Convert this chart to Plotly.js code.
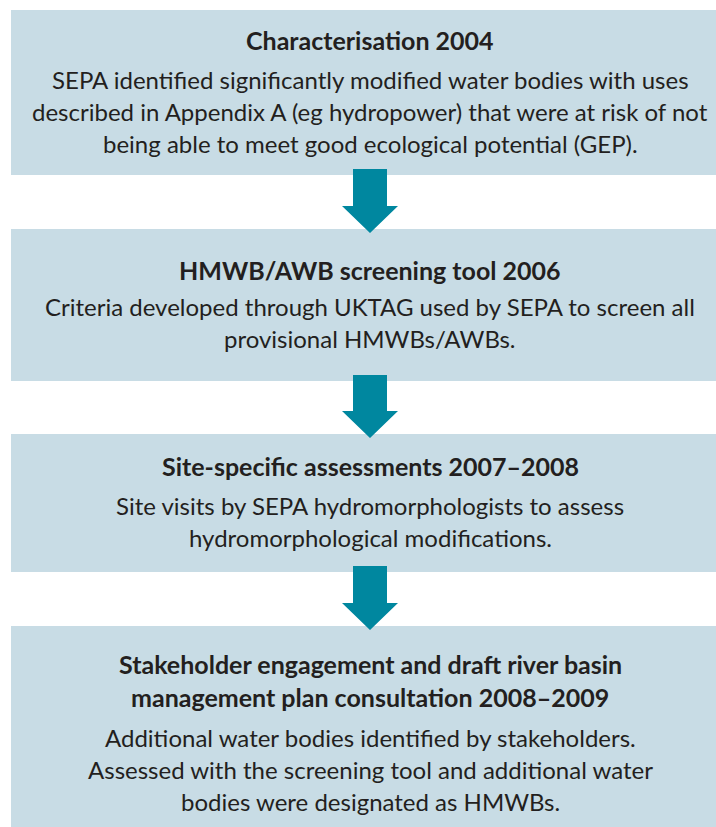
<!DOCTYPE html>
<html>
<head>
<meta charset="utf-8">
<script src="https://cdn.plot.ly/plotly-3.0.1.min.js"></script>
<style>html,body{margin:0;padding:0;background:#fff;}#chart{width:716px;height:827px;}</style>
</head>
<body>
<div id="chart"></div>
<script>
// Stage content
var stageTitles = [
  ["Characterisation 2004"],
  ["HMWB/AWB screening tool 2006"],
  ["Site-specific assessments 2007–2008"],
  ["Stakeholder engagement and draft river basin", "management plan consultation 2008–2009"]
];
var stageTexts = [
  ["SEPA identified significantly modified water bodies with uses",
   "described in Appendix A (eg hydropower) that were at risk of not",
   "being able to meet good ecological potential (GEP)."],
  ["Criteria developed through UKTAG used by SEPA to screen all",
   "provisional HMWBs/AWBs."],
  ["Site visits by SEPA hydromorphologists to assess",
   "hydromorphological modifications."],
  ["Additional water bodies identified by stakeholders.",
   "Assessed with the screening tool and additional water",
   "bodies were designated as HMWBs."]
];

// Layout geometry (pixels)
var boxTop = [10, 229, 434, 626];
var boxBottom = [175, 381, 572, 830];
var titleY = [[40], [270], [466], [664, 697]];
var textY = [[79, 111, 143], [306, 338], [505, 537], [737, 769, 801]];
var boxLeft = 11, boxRight = 730, cx = 370;
var boxColor = "#c8dce5", arrowColor = "#00879f", textColor = "#231f20";
var fontFam = "Lato, 'Open Sans', sans-serif";
var titleSize = 25, textSize = 24;

var shapes = [], annotations = [];
for (var i = 0; i < boxTop.length; i++) {
  shapes.push({type: "rect", xref: "x", yref: "y", x0: boxLeft, x1: boxRight,
    y0: boxTop[i], y1: boxBottom[i], fillcolor: boxColor, line: {width: 0}, layer: "below"});
  stageTitles[i].forEach(function (t, k) {
    annotations.push({x: cx, y: titleY[i][k], xref: "x", yref: "y", text: "<b>" + t + "</b>",
      showarrow: false, xanchor: "center", yanchor: "middle",
      font: {family: fontFam, size: titleSize, color: textColor}});
  });
  stageTexts[i].forEach(function (t, k) {
    annotations.push({x: cx, y: textY[i][k], xref: "x", yref: "y", text: t,
      showarrow: false, xanchor: "center", yanchor: "middle",
      font: {family: fontFam, size: textSize, color: textColor}});
  });
}
// Arrows between boxes
for (var j = 0; j < boxTop.length - 1; j++) {
  var s0 = boxBottom[j] - 6, tip = boxTop[j + 1] + 4, hb = tip - 27;
  var p = "M " + (cx - 17) + " " + s0 + " L " + (cx + 17) + " " + s0 +
          " L " + (cx + 17) + " " + hb + " L " + (cx + 28) + " " + hb +
          " L " + cx + " " + tip + " L " + (cx - 28) + " " + hb +
          " L " + (cx - 17) + " " + hb + " Z";
  shapes.push({type: "path", xref: "x", yref: "y", path: p, fillcolor: arrowColor,
    line: {width: 0}, layer: "above"});
}

var layout = {
  width: 716, height: 827,
  margin: {l: 0, r: 0, t: 0, b: 0},
  paper_bgcolor: "#ffffff", plot_bgcolor: "#ffffff",
  xaxis: {range: [0, 716], visible: false, fixedrange: true},
  yaxis: {range: [827, 0], visible: false, fixedrange: true},
  shapes: shapes, annotations: annotations, showlegend: false
};
Plotly.newPlot("chart", [], layout, {displayModeBar: false, staticPlot: true});
</script>
</body>
</html>
